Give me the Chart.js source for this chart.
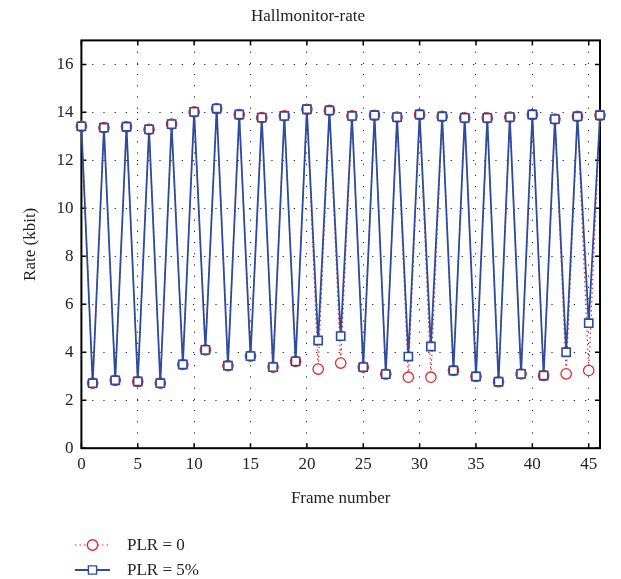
<!DOCTYPE html>
<html>
<head>
<meta charset="utf-8">
<script src="https://cdn.jsdelivr.net/npm/chart.js@4.4.1/dist/chart.umd.min.js"></script>
<style>
  html, body { margin: 0; padding: 0; background: #fff; }
  #wrap { width: 621px; height: 579px; }
</style>
</head>
<body>
<div id="wrap"><canvas id="grafica"></canvas></div>
<script>
const frames = [0, 1, 2, 3, 4, 5, 6, 7, 8, 9, 10, 11, 12, 13, 14, 15, 16, 17, 18, 19, 20, 21, 22, 23,
    24, 25, 26, 27, 28, 29, 30, 31, 32, 33, 34, 35, 36, 37, 38, 39, 40, 41, 42, 43, 44, 45, 46];
const plr0 = [13.42, 2.71, 13.36, 2.83, 13.40, 2.78, 13.29, 2.71, 13.51, 3.49, 14.02, 4.10, 14.16, 3.44,
    13.91, 3.84, 13.78, 3.38, 13.85, 3.62, 14.13, 3.30, 14.08, 3.55, 13.85, 3.38, 13.88, 3.09, 13.80, 2.96,
    13.91, 2.96, 13.83, 3.24, 13.77, 2.99, 13.77, 2.77, 13.80, 3.10, 13.91, 3.03, 13.72, 3.10, 13.83, 3.24, 13.88];
const plr5 = [13.42, 2.71, 13.36, 2.83, 13.40, 2.78, 13.29, 2.71, 13.51, 3.49, 14.02, 4.10, 14.16, 3.44,
    13.91, 3.84, 13.78, 3.38, 13.85, 3.62, 14.13, 4.49, 14.08, 4.67, 13.85, 3.38, 13.88, 3.09, 13.80, 3.82,
    13.91, 4.24, 13.83, 3.24, 13.77, 2.99, 13.77, 2.77, 13.80, 3.10, 13.91, 3.03, 13.72, 4.00, 13.83, 5.21, 13.88];
const etiquetas = ['PLR = 0', 'PLR = 5%'];

const rojo = '#e8262d';
const azul = '#2d4c9e';
const fuente = 'Liberation Serif, DejaVu Serif, serif';

// marco negro alrededor del area y marcas hacia adentro
const marco = {
    id: 'marco',
    beforeDatasetsDraw(chart) {
        const { ctx, chartArea: a, scales } = chart;
        ctx.save();
        ctx.strokeStyle = '#000';
        ctx.lineWidth = 1.5;
        ctx.beginPath();
        scales.x.ticks.forEach(t => {
            const px = scales.x.getPixelForValue(t.value);
            ctx.moveTo(px, a.bottom); ctx.lineTo(px, a.bottom - 5);
            ctx.moveTo(px, a.top); ctx.lineTo(px, a.top + 5);
        });
        scales.y.ticks.forEach(t => {
            const py = scales.y.getPixelForValue(t.value);
            ctx.moveTo(a.left, py); ctx.lineTo(a.left + 5, py);
            ctx.moveTo(a.right, py); ctx.lineTo(a.right - 5, py);
        });
        ctx.stroke();
        ctx.lineWidth = 2;
        ctx.strokeRect(a.left, a.top, a.right - a.left, a.bottom - a.top);
        ctx.restore();
    }
};

// leyenda con linea y marcador, abajo a la izquierda
const leyenda = {
    id: 'leyenda',
    afterDraw(chart) {
        const { ctx } = chart;
        chart.data.datasets.forEach((ds, i) => {
            const y = 545 + i * 25;
            const x0 = 75, x1 = 110;
            ctx.save();
            ctx.strokeStyle = ds.borderColor;
            ctx.lineWidth = ds.borderWidth;
            ctx.setLineDash(ds.borderDash || []);
            ctx.beginPath();
            ctx.moveTo(x0, y); ctx.lineTo(x1, y);
            ctx.stroke();
            ctx.setLineDash([]);
            ctx.fillStyle = '#fff';
            ctx.lineWidth = 1.4;
            Chart.helpers.drawPoint(ctx, {
                pointStyle: ds.pointStyle, radius: ds.pointRadius, rotation: 0, borderWidth: 1.4
            }, (x0 + x1) / 2, y);
            ctx.fillStyle = '#222';
            ctx.font = '17px ' + fuente;
            ctx.textBaseline = 'middle';
            ctx.fillText(ds.label, 127, y + 1);
            ctx.restore();
        });
    }
};

const ctx = document.getElementById('grafica').getContext('2d');
new Chart(ctx, {
    type: 'line',
    data: {
        datasets: [{
            label: etiquetas[0],
            data: frames.map((f, i) => ({ x: f, y: plr0[i] })),
            borderColor: rojo,
            borderWidth: 1.2,
            borderDash: [1.5, 3],
            pointStyle: 'circle',
            pointRadius: 5.2,
            pointBorderWidth: 1.3,
            pointBorderColor: rojo,
            pointBackgroundColor: '#fff',
            tension: 0,
            clip: false,
            order: 2
        }, {
            label: etiquetas[1],
            data: frames.map((f, i) => ({ x: f, y: plr5[i] })),
            borderColor: azul,
            borderWidth: 1.8,
            pointStyle: 'rect',
            pointRadius: 5.8,
            pointBorderWidth: 1.6,
            pointBorderColor: azul,
            pointBackgroundColor: '#fff',
            tension: 0,
            clip: false,
            order: 1
        }]
    },
    options: {
        responsive: true,
        maintainAspectRatio: false,
        animation: false,
        layout: { padding: { left: 16, right: 21, top: 4, bottom: 66 } },
        plugins: {
            legend: { display: false },
            tooltip: { enabled: false },
            title: {
                display: true,
                text: 'Hallmonitor-rate',
                color: '#222',
                font: { family: fuente, size: 17, weight: 'normal' },
                padding: { top: 2, bottom: 14 }
            }
        },
        scales: {
            x: {
                type: 'linear',
                min: 0,
                max: 46,
                grid: { color: '#222', lineWidth: 1, drawTicks: false },
                border: { display: false, dash: [1.2, 10] },
                ticks: {
                    stepSize: 5,
                    includeBounds: false,
                    padding: 6,
                    color: '#222',
                    maxRotation: 0,
                    font: { family: fuente, size: 17 }
                },
                title: {
                    display: true,
                    text: 'Frame number',
                    color: '#222',
                    padding: { top: 8 },
                    font: { family: fuente, size: 17 }
                }
            },
            y: {
                min: 0,
                max: 17,
                grid: { color: '#222', lineWidth: 1, drawTicks: false },
                border: { display: false, dash: [1.2, 10] },
                ticks: {
                    stepSize: 2,
                    includeBounds: false,
                    padding: 8,
                    color: '#222',
                    font: { family: fuente, size: 17 }
                },
                title: {
                    display: true,
                    text: 'Rate (kbit)',
                    color: '#222',
                    padding: { bottom: 8 },
                    font: { family: fuente, size: 17 }
                }
            }
        }
    },
    plugins: [marco, leyenda]
});
</script>
</body>
</html>
